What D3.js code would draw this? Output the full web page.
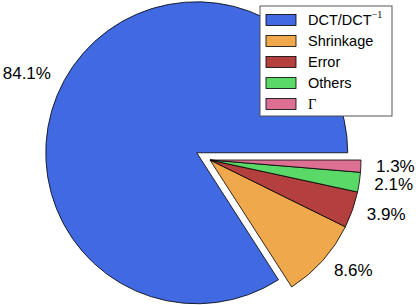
<!DOCTYPE html>
<html>
<head>
<meta charset="utf-8">
<script src="https://cdn.jsdelivr.net/npm/d3@7"></script>
<style>
  body { margin: 0; background: #fff; }
  text { font-family: "Liberation Sans", Arial, sans-serif; }
</style>
</head>
<body>
<div id="pie"></div>
<script>
var svgWidth = 416;
var svgHeight = 305;

// data
var labels = ["DCT/DCT", "Shrinkage", "Error", "Others", "\u0393"];
var shares = [84.1, 8.6, 3.9, 2.1, 1.3];
var colors = ["#4169E1", "#F0A84C", "#B33F3F", "#5AD868", "#DB7093"];
var explode = [0.1, 0, 0, 0, 0];

var cx = 210, cy = 160, radius = 151;

var svg = d3.select("#pie")
  .append("svg")
  .attr("width", svgWidth)
  .attr("height", svgHeight);

var chartGroup = svg.append("g")
  .attr("transform", `translate(${cx}, ${cy})`);

// start at 3 o'clock, go counterclockwise (like matplotlib)
var pie = d3.pie()
  .sort(null)
  .startAngle(Math.PI / 2)
  .endAngle(Math.PI / 2 - 2 * Math.PI);

var arcs = pie(shares);

var arc = d3.arc().innerRadius(0).outerRadius(radius);
var labelArc = d3.arc().innerRadius(radius * 1.1).outerRadius(radius * 1.1);

function offset(d, i) {
  var a = (d.startAngle + d.endAngle) / 2;
  var e = explode[i] * radius;
  return [Math.sin(a) * e, -Math.cos(a) * e];
}

var slices = chartGroup.selectAll("g.slice")
  .data(arcs)
  .enter()
  .append("g")
  .attr("class", "slice")
  .attr("transform", function(d, i) {
    var o = offset(d, i);
    return `translate(${o[0]}, ${o[1]})`;
  });

slices.append("path")
  .attr("d", arc)
  .style("fill", (d, i) => colors[i])
  .style("stroke", "#000")
  .style("stroke-width", 0.8)
  .style("stroke-linejoin", "round");

slices.append("text")
  .attr("transform", function(d) {
    var c = labelArc.centroid(d);
    return `translate(${c[0]}, ${c[1]})`;
  })
  .attr("text-anchor", function(d) {
    return labelArc.centroid(d)[0] < 0 ? "end" : "start";
  })
  .attr("dominant-baseline", "central")
  .style("font-size", "17px")
  .text(d => d.data.toFixed(1) + "%");

// legend
var legend = svg.append("g")
  .attr("transform", "translate(260, 6)");

legend.append("rect")
  .attr("width", 132)
  .attr("height", 110)
  .style("fill", "#fff")
  .style("stroke", "#444")
  .style("stroke-width", 0.9);

var rows = legend.selectAll("g.row")
  .data(labels)
  .enter()
  .append("g")
  .attr("class", "row")
  .attr("transform", (d, i) => `translate(0, ${14 + i * 21})`);

rows.append("rect")
  .attr("x", 6)
  .attr("y", -5.5)
  .attr("width", 30)
  .attr("height", 11)
  .style("fill", (d, i) => colors[i])
  .style("stroke", "#000")
  .style("stroke-width", 0.8);

rows.append("text")
  .attr("x", 48)
  .attr("dominant-baseline", "central")
  .style("font-size", "14.5px")
  .style("font-family", (d, i) => i === 4 ? "'Liberation Serif', serif" : null)
  .each(function(d, i) {
    var t = d3.select(this);
    t.append("tspan").text(d);
    if (i === 0) {
      t.append("tspan")
        .attr("dy", -6)
        .style("font-size", "10px")
        .style("font-family", "'Liberation Serif', serif")
        .text("\u22121");
    }
  });
</script>
</body>
</html>
